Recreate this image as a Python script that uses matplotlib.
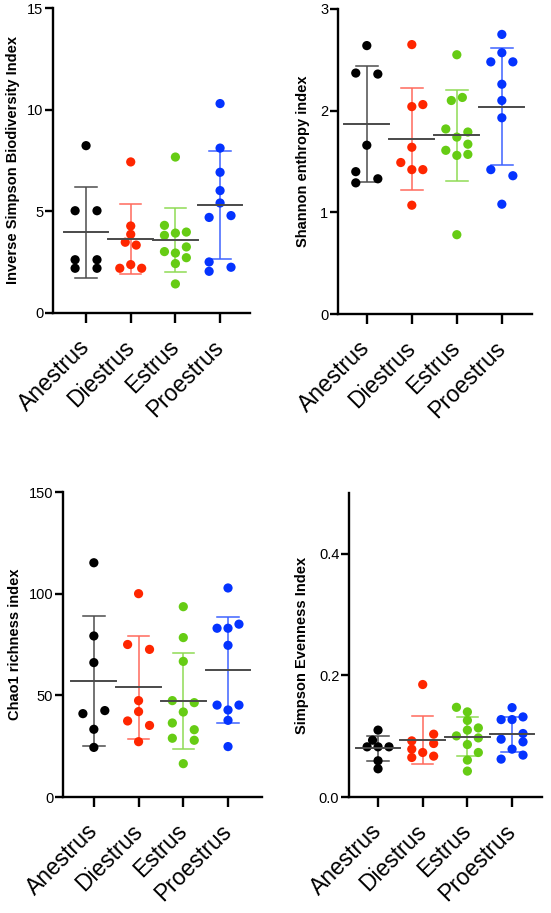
import matplotlib
matplotlib.use("Agg")
import matplotlib.pyplot as plt
import numpy as np

plt.rcParams['font.family'] = ['Liberation Sans', 'DejaVu Sans']

categories = ['Anestrus', 'Diestrus', 'Estrus', 'Proestrus']
group_colors = ['#000000', '#FF2600', '#66CC14', '#0433FF']
bar_colors = ['#4d4d4d', '#FF6A5C', '#8FDB55', '#3E63FF']

# ---- Inverse Simpson Biodiversity Index ----
invsimp_anestrus = [8.23, 5.03, 5.03, 2.62, 2.62, 2.20, 2.20]
invsimp_diestrus = [7.43, 4.28, 3.87, 3.48, 3.34, 2.38, 2.20, 2.20]
invsimp_estrus = [7.67, 4.31, 3.82, 3.93, 3.98, 3.25, 3.02, 2.95, 2.72, 2.43, 1.43]
invsimp_proestrus = [10.3, 8.11, 6.92, 6.02, 5.41, 4.70, 4.79, 2.51, 2.05, 2.25]
invsimp_mean = [3.98, 3.64, 3.61, 5.30]
invsimp_sd = [2.24, 1.745, 1.57, 2.66]

# ---- Shannon enthropy index ----
shannon_anestrus = [2.64, 2.37, 2.36, 1.66, 1.40, 1.29, 1.33]
shannon_diestrus = [2.65, 2.04, 2.06, 1.64, 1.49, 1.42, 1.42, 1.07]
shannon_estrus = [2.55, 2.10, 2.13, 1.82, 1.79, 1.74, 1.67, 1.61, 1.56, 1.57, 0.78]
shannon_proestrus = [2.75, 2.57, 2.48, 2.48, 2.26, 2.10, 1.93, 1.42, 1.36, 1.08]
shannon_mean = [1.866, 1.72, 1.757, 2.04]
shannon_sd = [0.57, 0.50, 0.445, 0.575]

# ---- Chao1 richness index ----
chao_anestrus = [115.2, 79.2, 66.1, 41.0, 42.5, 33.3, 24.4]
chao_diestrus = [100.0, 75.0, 72.6, 47.4, 42.0, 37.4, 35.2, 27.2]
chao_estrus = [93.6, 78.4, 66.7, 47.4, 46.4, 41.8, 36.4, 33.1, 28.9, 27.9, 16.4]
chao_proestrus = [102.8, 83.0, 83.0, 85.0, 74.6, 45.2, 45.2, 42.8, 37.7, 24.8]
chao_mean = [57.2, 54.0, 47.3, 62.3]
chao_sd = [31.9, 25.4, 23.5, 26.15]

# ---- Simpson Evenness Index ----
even_anestrus = [0.110, 0.0934, 0.0825, 0.0825, 0.0825, 0.0596, 0.0464]
even_diestrus = [0.185, 0.1033, 0.0923, 0.088, 0.0787, 0.0732, 0.065, 0.0672]
even_estrus = [0.1475, 0.140, 0.126, 0.110, 0.1136, 0.1005, 0.0972, 0.0863, 0.0732, 0.0607, 0.0426]
even_proestrus = [0.147, 0.1273, 0.1273, 0.1317, 0.0951, 0.1044, 0.0907, 0.0787, 0.0689, 0.0623]
even_mean = [0.080, 0.0934, 0.0995, 0.103]
even_sd = [0.0208, 0.0395, 0.032, 0.0287]

# ---- scatter layout (horizontal slot of each dot, in dot spacings) ----
invsimp_slots = [[0, -1, 1, -1, 1, -1, 1],
                 [0, 0, 0, -0.5, 0.5, 0, -1, 1],
                 [0, -1, -1, 0, 1, 1, -1, 0, 1, 0, 0],
                 [0, 0, 0, 0, 0, -1, 1, -1, -1, 1]]
shannon_slots = [[0, -1, 1, 0, -1, -1, 1],
                 [0, 0, 1, 0, -1, 0, 1, 0],
                 [0, -0.5, 0.5, -1, 1, 0, 1, -1, 0, 1, 0],
                 [0, 0, -1, 1, 0, 0, 0, -1, 1, 0]]
chao_slots = [[0, 0, 0, -1, 1, 0, 0],
              [0, -1, 1, 0, 0, -1, 1, 0],
              [0, 0, 0, -1, 1, 0, -1, 1, -1, 1, 0],
              [0, -1, 0, 1, 0, -1, 1, 0, 0, 0]]
even_slots = [[0, -0.5, -1, 0, 1, 0, 0],
              [0, 1, -1, 1, -1, 0, -1, 1],
              [-1, 0, 0, 0, 1, -1, 1, 0, 1, 0, 0],
              [0, -1, 0, 1, -1, 1, 1, 0, 1, -1]]

panels = [
    dict(groups=[invsimp_anestrus, invsimp_diestrus, invsimp_estrus, invsimp_proestrus],
         mean=invsimp_mean, sd=invsimp_sd, slots=invsimp_slots,
         ylabel='Inverse Simpson Biodiversity Index', ylim=(0, 15), yticks=[0, 5, 10, 15],
         yfmt='{:g}', rect=(53, 8, 250, 313), xlim=(-0.74, 3.67), labx=-0.168),
    dict(groups=[shannon_anestrus, shannon_diestrus, shannon_estrus, shannon_proestrus],
         mean=shannon_mean, sd=shannon_sd, slots=shannon_slots,
         ylabel='Shannon enthropy index', ylim=(0, 3), yticks=[0, 1, 2, 3],
         yfmt='{:g}', rect=(338, 9, 532, 314), xlim=(-0.64, 3.67), labx=-0.144),
    dict(groups=[chao_anestrus, chao_diestrus, chao_estrus, chao_proestrus],
         mean=chao_mean, sd=chao_sd, slots=chao_slots,
         ylabel='Chao1 richness index', ylim=(0, 150), yticks=[0, 50, 100, 150],
         yfmt='{:g}', rect=(63, 492, 262, 797), xlim=(-0.69, 3.76), labx=-0.206),
    dict(groups=[even_anestrus, even_diestrus, even_estrus, even_proestrus],
         mean=even_mean, sd=even_sd, slots=even_slots,
         ylabel='Simpson Evenness Index', ylim=(0, 0.5), yticks=[0.0, 0.2, 0.4],
         yfmt='{:.1f}', rect=(349, 493, 542, 797), xlim=(-0.65, 3.67), labx=-0.207),
]

W, H = 551, 913
fig = plt.figure(figsize=(W / 100, H / 100), dpi=100)

slot_w = 0.245
mean_hw = 0.5
cap_hw = 0.24

for p in panels:
    x0, y0, x1, y1 = p['rect']
    ax = fig.add_axes([x0 / W, 1 - y1 / H, (x1 - x0) / W, (y1 - y0) / H])
    for i, (vals, slots) in enumerate(zip(p['groups'], p['slots'])):
        m = p['mean'][i]
        s = p['sd'][i]
        bc = bar_colors[i]
        # SD bar
        ax.plot([i, i], [m - s, m + s], color=bc, lw=1.1, zorder=2, solid_capstyle='butt')
        ax.plot([i - cap_hw, i + cap_hw], [m + s, m + s], color=bc, lw=1.1, zorder=2)
        ax.plot([i - cap_hw, i + cap_hw], [m - s, m - s], color=bc, lw=1.1, zorder=2)
        # points
        xs = i + np.array(slots) * slot_w
        ax.scatter(xs, vals, s=44, color=group_colors[i], edgecolors='none', zorder=3)
        # mean
        ax.plot([i - mean_hw, i + mean_hw], [m, m], color='#4a4a4a', lw=1.4, zorder=4)

    ax.set_xlim(*p['xlim'])
    ax.set_ylim(*p['ylim'])
    ax.set_yticks(p['yticks'])
    ax.set_yticklabels([p['yfmt'].format(v) for v in p['yticks']], fontsize=10.5)
    ax.set_xticks(range(len(categories)))
    ax.set_xticklabels(categories, fontsize=16.5, rotation=45, ha='right', va='center',
                       rotation_mode='anchor')
    ax.spines['top'].set_visible(False)
    ax.spines['right'].set_visible(False)
    for sp in ('left', 'bottom'):
        ax.spines[sp].set_linewidth(1.7)
    ax.tick_params(axis='y', direction='out', length=5.5, width=1.7, pad=1.5)
    ax.tick_params(axis='x', direction='out', length=7, width=1.7, pad=15)
    ax.set_ylabel(p['ylabel'], fontsize=10.5, fontweight='bold')
    ax.yaxis.set_label_coords(p['labx'], 0.5)
    ax.patch.set_alpha(0)

fig.savefig('out.png', dpi=100)
